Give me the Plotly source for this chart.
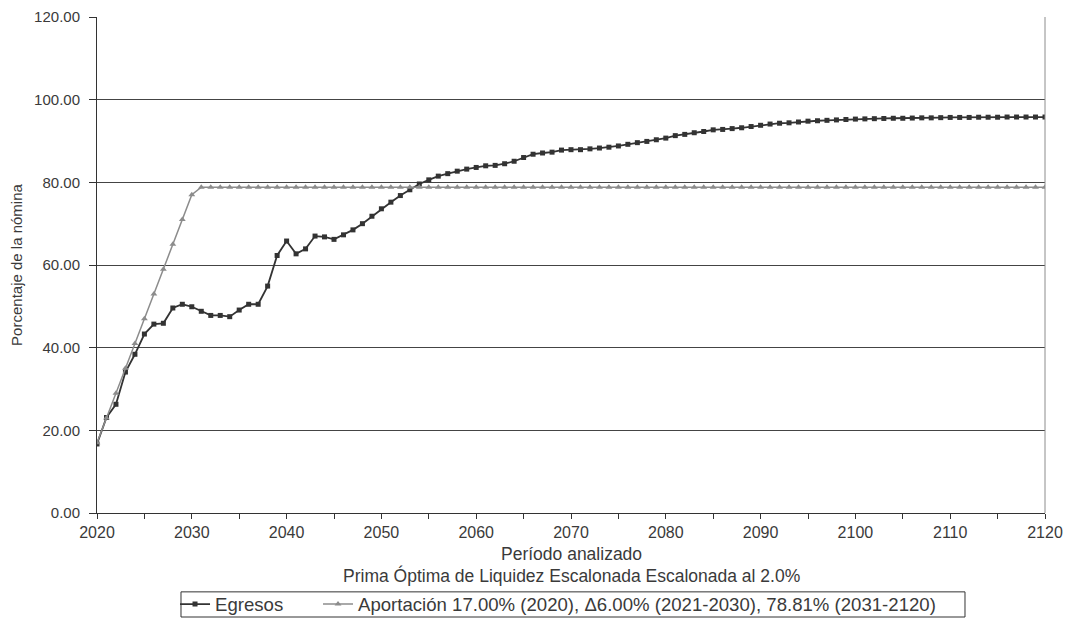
import plotly.graph_objects as go

years = list(range(2020, 2121))

egresos = [
    16.7, 23.1, 26.3, 34.1, 38.4, 43.3, 45.7, 45.9, 49.6, 50.5,
    49.9, 48.8, 47.8, 47.8, 47.5, 49.1, 50.5, 50.5, 54.9, 62.3,
    65.8, 62.7, 63.9, 67.0, 66.8, 66.2, 67.3, 68.5, 70.0, 71.8,
    73.6, 75.2, 76.8, 78.2, 79.6, 80.6, 81.5, 82.1, 82.7, 83.2,
    83.6, 84.0, 84.1, 84.5, 85.1, 86.0, 86.8, 87.1, 87.3, 87.8,
    87.9, 87.9, 88.1, 88.3, 88.5, 88.8, 89.2, 89.6, 89.9, 90.3,
    90.7, 91.3, 91.6, 92.0, 92.3, 92.7, 92.8, 93.0, 93.2, 93.5,
    93.8, 94.1, 94.3, 94.4, 94.6, 94.8, 94.9, 95.0, 95.1, 95.2,
    95.3, 95.35, 95.4, 95.45, 95.5, 95.5, 95.55, 95.6, 95.6, 95.65,
    95.7, 95.7, 95.7, 95.75, 95.75, 95.75, 95.8, 95.8, 95.8, 95.8,
    95.8,
]

aportacion = [17.0, 23.0, 29.0, 35.0, 41.0, 47.0, 53.0, 59.0, 65.0, 71.0, 77.0] + [78.81] * 90

y_ticks = [0, 20, 40, 60, 80, 100, 120]
y_labels = ["%.2f" % v for v in y_ticks]

x_title = "Período analizado"
subtitle = "Prima Óptima de Liquidez Escalonada Escalonada al 2.0%"

font = "Liberation Sans, Arial, sans-serif"
text_color = "#3a3a3a"

fig = go.Figure()

fig.add_trace(go.Scatter(
    x=years, y=egresos, name="Egresos",
    mode="lines+markers",
    line=dict(color="#333333", width=1.8),
    marker=dict(symbol="square", size=5, color="#333333"),
    legendwidth=98,
))

fig.add_trace(go.Scatter(
    x=years, y=aportacion,
    name="Aportación 17.00% (2020), Δ6.00% (2021-2030), 78.81% (2031-2120)",
    mode="lines+markers",
    line=dict(color="#8c8c8c", width=1.5),
    marker=dict(symbol="triangle-up", size=6, color="#8c8c8c"),
))

# figure is a bit taller than the window so the legend never pushes the plot margins;
# the extra strip at the bottom is empty and falls outside the 621px view
fig.update_layout(
    width=1068, height=650,
    margin=dict(l=97, r=23, t=17, b=137),
    plot_bgcolor="white",
    paper_bgcolor="white",
    font=dict(family=font, size=14, color=text_color),
    showlegend=True,
    legend=dict(
        orientation="h", x=0.0823, xanchor="left", y=-0.1845, yanchor="middle",
        font=dict(size=18.6, color=text_color),
        bgcolor="rgba(0,0,0,0)",
        itemwidth=30,
    ),
    shapes=[
        # right border of plot area
        dict(type="line", xref="paper", yref="paper", x0=1, x1=1, y0=0, y1=1,
             line=dict(color="#8c8c8c", width=1)),
        # legend frame
        dict(type="rect", xref="paper", yref="paper", x0=0.0886, x1=0.9156, y0=-0.159, y1=-0.2097,
             line=dict(color="#333333", width=1)),
    ],
    annotations=[
        dict(text=x_title, xref="paper", yref="paper", x=0.5, y=-0.0827,
             xanchor="center", yanchor="middle", showarrow=False,
             font=dict(size=17.5, color=text_color)),
        dict(text=subtitle, xref="paper", yref="paper", x=0.5, y=-0.125,
             xanchor="center", yanchor="middle", showarrow=False,
             font=dict(size=17.5, color=text_color)),
    ],
)

fig.update_xaxes(
    range=[2020, 2120],
    tickmode="linear", tick0=2020, dtick=10,
    ticks="outside", ticklen=5, tickcolor="#333333",
    tickfont=dict(size=16, color=text_color),
    minor=dict(dtick=5, tick0=2020, ticks="outside", ticklen=5, tickcolor="#333333", showgrid=False),
    showline=True, linecolor="#333333", linewidth=1,
    showgrid=False, zeroline=False,
    automargin=False,
)

fig.update_yaxes(
    range=[0, 120],
    tickvals=y_ticks, ticktext=y_labels,
    ticks="outside", ticklen=7, tickcolor="#333333",
    ticklabelstandoff=6,
    tickfont=dict(size=15, color=text_color),
    showline=True, linecolor="#333333", linewidth=1,
    showgrid=True, gridcolor="#444444", gridwidth=1,
    zeroline=False,
    automargin=False,
    title=dict(text="Porcentaje de la nómina", font=dict(size=15, color=text_color), standoff=7),
)

# drop the default page margin so the figure sits at the window's top-left corner
fig.write_html(
    "out.html",
    config={"displayModeBar": False},
    post_script="document.body.style.margin='0';document.documentElement.style.overflow='hidden';",
)
